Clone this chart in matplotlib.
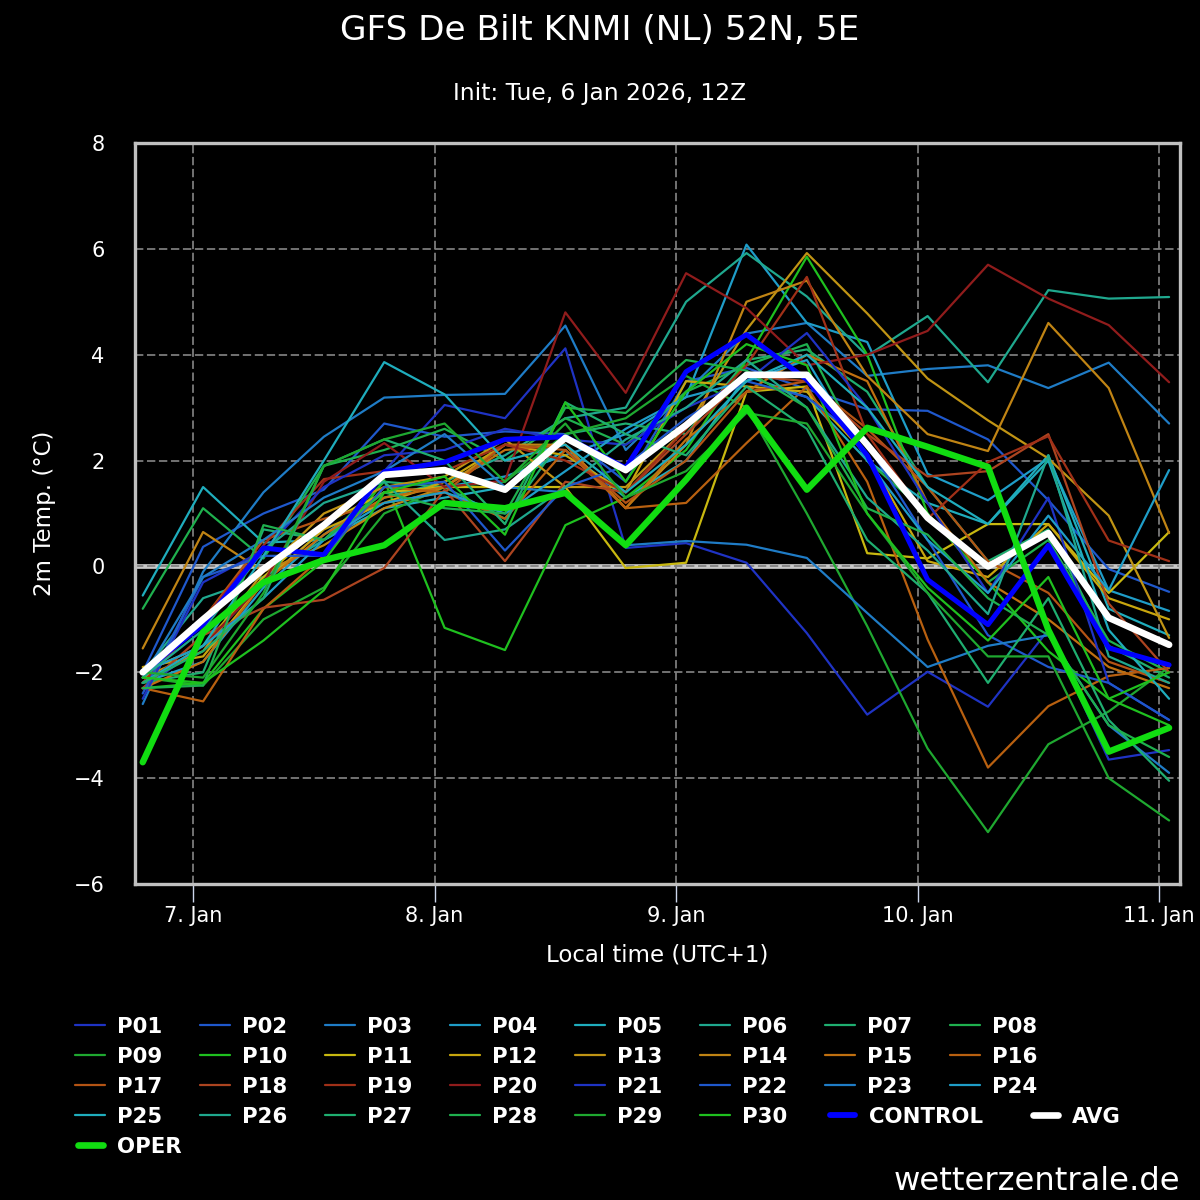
import matplotlib
matplotlib.use("Agg")
import matplotlib.pyplot as plt
from matplotlib.lines import Line2D
import pandas as pd

# ---------------- data ----------------
times = pd.date_range("2026-01-06 19:00", periods=18, freq="6h")
x_tick_dates = pd.to_datetime(["2026-01-07", "2026-01-08", "2026-01-09", "2026-01-10", "2026-01-11"])
x_tick_labels = ["7. Jan", "8. Jan", "9. Jan", "10. Jan", "11. Jan"]
y_ticks = [-6, -4, -2, 0, 2, 4, 6, 8]

p01 = [-2.3, -1.5, -0.3, 0.7, 1.8, 3.05, 2.8, 4.12, 0.35, 0.44, 0.07, -1.26, -2.8, -1.99, -2.65, -1.2, -3.65, -3.47]
p02 = [-2.0, 0.37, 1.0, 1.45, 2.7, 2.45, 2.55, 2.5, 1.6, 3.5, 3.75, 3.35, 2.97, 2.94, 2.4, 1.25, -0.05, -0.48]
p03 = [-2.6, -0.1, 1.4, 2.45, 3.19, 3.24, 3.26, 4.55, 2.2, 3.3, 4.4, 4.6, 3.6, 3.73, 3.8, 3.37, 3.85, 2.7]
p04 = [-2.2, -1.8, -0.4, 0.6, 1.4, 1.5, 1.7, 2.1, 2.5, 3.2, 6.08, 4.6, 4.24, 1.75, 1.25, 2.04, -0.45, -0.84]
p05 = [-0.55, 1.5, 0.45, 0.5, 1.1, 1.3, 1.5, 2.2, 1.3, 2.0, 3.6, 3.2, 2.0, 1.2, 0.8, 2.1, -0.8, -1.3]
p06 = [-2.0, -0.6, -0.2, 0.5, 1.3, 1.6, 2.1, 2.8, 3.0, 5.0, 5.92, 5.1, 3.98, 4.73, 3.48, 5.22, 5.06, 5.09]
p07 = [-2.2, -2.0, 0.7, 0.5, 1.6, 1.5, 0.9, 2.5, 2.7, 2.5, 3.9, 4.1, 3.3, 1.5, 0.1, 0.7, -1.5, -2.1]
p08 = [-0.8, 1.1, 0.15, 1.9, 2.2, 2.6, 2.0, 2.8, 2.3, 3.3, 3.8, 4.2, 2.0, 1.0, -0.3, 0.5, -1.4, -2.0]
p09 = [-2.1, -2.25, -1.0, -0.4, 1.0, 1.5, 1.6, 2.5, 2.8, 3.6, 3.0, 1.0, -1.13, -3.44, -5.02, -3.36, -2.74, -1.9]
p10 = [-2.3, -2.2, -0.8, 0.1, 1.63, -1.16, -1.58, 0.78, 1.3, 2.2, 3.9, 5.85, 4.0, 1.0, -0.3, -1.6, -2.5, -3.0]
p11 = [-2.0, -1.5, -0.2, 0.8, 1.4, 1.5, 1.5, 1.5, -0.03, 0.07, 3.3, 3.4, 0.25, 0.15, 0.8, 0.8, -0.5, 0.65]
p12 = [-1.9, -1.7, -0.3, 0.7, 1.2, 1.6, 2.3, 2.1, 1.4, 3.5, 3.4, 3.3, 2.1, 0.1, -0.2, 0.8, -0.6, -1.0]
p13 = [-2.1, -1.6, -0.1, 1.0, 1.5, 1.7, 2.4, 1.5, 1.5, 2.6, 4.47, 5.92, 4.78, 3.55, 2.76, 2.04, 0.96, -1.35]
p14 = [-1.55, 0.65, -0.1, 0.4, 1.1, 1.5, 2.3, 2.3, 1.1, 2.3, 5.0, 5.4, 3.6, 2.5, 2.18, 4.6, 3.37, 0.63]
p15 = [-2.3, -1.8, -0.3, 0.6, 1.3, 1.5, 2.2, 2.3, 1.1, 2.4, 3.3, 4.0, 3.5, 1.2, -0.3, -1.0, -1.9, -2.3]
p16 = [-2.3, -2.55, -0.8, 0.2, 1.5, 1.4, 0.9, 2.2, 1.1, 1.2, 2.33, 3.4, 1.6, -1.38, -3.8, -2.64, -2.07, -1.92]
p17 = [-2.2, -1.0, 0.5, 0.9, 1.2, 1.4, 2.3, 2.2, 1.2, 2.0, 3.3, 3.5, 2.6, 1.5, 0.1, -0.5, -1.8, -2.2]
p18 = [-2.3, -1.3, -0.78, -0.63, -0.03, 1.45, 0.1, 1.6, 1.4, 2.5, 3.6, 3.5, 2.5, 1.7, 1.8, 2.5, -0.7, -2.0]
p19 = [-2.2, -1.0, 0.4, 1.65, 1.8, 1.8, 2.3, 2.0, 1.4, 2.6, 3.8, 5.47, 2.5, 0.9, 1.97, 2.46, 0.49, 0.1]
p20 = [-2.2, -1.5, -0.3, 1.6, 2.33, 1.5, 1.62, 4.8, 3.28, 5.54, 4.88, 3.8, 4.0, 4.45, 5.7, 5.06, 4.56, 3.48]
p21 = [-2.5, -0.3, 0.3, 1.5, 2.1, 2.2, 2.6, 2.4, 2.3, 3.0, 3.5, 4.41, 3.0, 1.2, -0.5, 1.3, -2.2, -2.9]
p22 = [-2.4, -0.2, 0.2, 0.2, 1.5, 1.6, 0.3, 1.5, 1.9, 2.8, 3.5, 3.2, 2.3, 0.5, -1.3, -1.9, -2.2, -2.9]
p23 = [-2.1, -0.2, 0.5, 1.3, 1.8, 2.5, 1.5, 1.4, 0.4, 0.48, 0.41, 0.16, -0.88, -1.9, -1.5, -1.3, -3.0, -3.9]
p24 = [-2.0, -1.5, -0.6, 0.5, 1.2, 1.4, 1.0, 1.8, 2.6, 3.2, 3.5, 3.9, 2.0, 0.5, -0.5, 0.96, -0.45, 1.82]
p25 = [-2.2, -1.5, 0.2, 2.0, 3.86, 3.25, 2.0, 2.3, 1.4, 2.3, 3.5, 4.0, 3.0, 1.5, 0.8, 2.0, -1.2, -2.5]
p26 = [-2.1, -1.2, 0.3, 1.2, 1.6, 0.5, 0.7, 1.5, 2.4, 3.0, 3.9, 3.0, 1.3, 0.3, -0.9, 2.1, -1.7, -2.2]
p27 = [-2.2, -1.6, -0.6, 1.9, 2.4, 2.0, 0.8, 3.1, 2.5, 2.1, 3.4, 2.6, 0.5, -0.5, -2.2, -0.6, -2.9, -4.05]
p28 = [-2.3, -2.25, 0.78, 0.5, 1.4, 1.1, 1.0, 3.0, 2.9, 3.9, 3.7, 3.0, 1.1, 0.6, -0.6, -1.3, -3.0, -3.6]
p29 = [-2.0, -2.1, -0.5, 1.9, 2.4, 2.7, 1.6, 2.7, 1.3, 1.8, 2.9, 2.7, 1.0, -0.5, -1.7, -1.7, -4.0, -4.8]
p30 = [-2.1, -2.2, -1.4, -0.45, 1.4, 1.7, 0.6, 3.1, 1.6, 3.3, 4.2, 3.8, 1.0, -0.4, -1.4, -0.2, -2.5, -2.0]

control = [-2.0, -1.1, 0.35, 0.22, 1.79, 1.97, 2.4, 2.45, 1.86, 3.68, 4.38, 3.53, 2.1, -0.25, -1.1, 0.4, -1.54, -1.86]
avg = [-2.0, -1.0, -0.05, 0.78, 1.73, 1.82, 1.45, 2.43, 1.82, 2.67, 3.62, 3.62, 2.3, 0.92, 0.0, 0.63, -0.97, -1.48]
oper = [-3.7, -1.24, -0.3, 0.12, 0.4, 1.2, 1.1, 1.39, 0.4, 1.64, 3.0, 1.45, 2.62, 2.26, 1.88, -1.2, -3.5, -3.05]

members = [p01, p02, p03, p04, p05, p06, p07, p08, p09, p10,
           p11, p12, p13, p14, p15, p16, p17, p18, p19, p20,
           p21, p22, p23, p24, p25, p26, p27, p28, p29, p30]
member_names = ["P%02d" % (i + 1) for i in range(30)]

title = "GFS De Bilt KNMI (NL) 52N, 5E"
subtitle = "Init: Tue, 6 Jan 2026, 12Z"
x_label = "Local time (UTC+1)"
y_label = "2m Temp. (°C)"
credit = "wetterzentrale.de"

# ---------------- style ----------------
palette20 = ["#1f33c4", "#1f58cc", "#1f7cc6", "#1f9dc8", "#1fadbd",
             "#1fa88e", "#1fae70", "#1fb04e", "#1fa830", "#1fc01f",
             "#c8b810", "#c8a60e", "#c09414", "#c08414", "#c07010",
             "#b86010", "#b45414", "#ac4420", "#a03018", "#901c1c"]
member_colors = palette20 + palette20[:10]

W = H = 1200
BG = "black"
fig = plt.figure(figsize=(12, 12), dpi=100, facecolor=BG)
ax_l, ax_r, ax_t, ax_b = 135, 1180, 143, 884
ax = fig.add_axes([ax_l / W, 1 - ax_b / H, (ax_r - ax_l) / W, (ax_b - ax_t) / H])
ax.set_facecolor(BG)

for vals, col in zip(members, member_colors):
    ax.plot(times, vals, color=col, lw=1.6, zorder=2,
            solid_joinstyle="round", solid_capstyle="round")
ax.plot(times, control, color="#0000ff", lw=3.6, zorder=3,
        solid_joinstyle="round", solid_capstyle="round")
ax.plot(times, avg, color="white", lw=4.8, zorder=4,
        solid_joinstyle="round", solid_capstyle="round")
ax.plot(times, oper, color="#11dd11", lw=4.6, zorder=5,
        solid_joinstyle="round", solid_capstyle="round")

ax.set_xlim(pd.Timestamp("2026-01-06 18:14"), pd.Timestamp("2026-01-11 02:05"))
ax.set_ylim(-6, 8)
ax.set_xticks(x_tick_dates)
ax.set_xticklabels(x_tick_labels)
ax.set_yticks(y_ticks)
ax.set_yticklabels([("\u2212%d" % -v) if v < 0 else "%d" % v for v in y_ticks])

ax.grid(True, color="#808080", lw=1.25, linestyle=(0, (4.8, 2.1)))
ax.axhline(0, color="#c8c8c8", lw=3.4, zorder=1.4)

for s in ax.spines.values():
    s.set_color("#c0c0c0")
    s.set_linewidth(2.4)

ax.tick_params(axis="x", length=13, width=1.0, color="#ccd6eb",
               labelsize=15, labelcolor="white", pad=3)
ax.tick_params(axis="y", length=0, labelsize=15, labelcolor="white", pad=22)

# texts
fig.text(0.5, 1 - 40 / H, title, ha="center", va="baseline", fontsize=24.7, color="white")
fig.text(0.5, 1 - 100 / H, subtitle, ha="center", va="baseline", fontsize=16.8, color="white")
fig.text((ax_l + ax_r) / 2 / W, 1 - 955 / H, x_label, ha="center", va="center",
         fontsize=16.5, color="white")
fig.text(45 / W, 1 - 513 / H, y_label, ha="center", va="center", rotation=90,
         fontsize=16.5, color="white")
fig.text(1180 / W, 1 - 1190 / H, credit, ha="right", va="baseline", fontsize=23.2, color="white")

# legend (flow layout, row-major)
entries = [(n, c, 1.6) for n, c in zip(member_names, member_colors)]
entries += [("CONTROL", "#0000ff", 4.2), ("AVG", "white", 4.8), ("OPER", "#11dd11", 4.8)]
row_y = [1025, 1055, 1085, 1115, 1145]
positions = []
for k in range(24):
    positions.append((75 + 125 * (k % 8), row_y[k // 8]))
for k in range(6):
    positions.append((75 + 125 * k, row_y[3]))
positions.append((827, row_y[3]))
positions.append((1030, row_y[3]))
positions.append((75, row_y[4]))

for (name, col, lw), (x0, y0) in zip(entries, positions):
    if lw > 2:
        xs = [(x0 + 3) / W, (x0 + 28) / W]
    else:
        xs = [x0 / W, (x0 + 30) / W]
    fig.add_artist(Line2D(xs, [1 - y0 / H] * 2, transform=fig.transFigure,
                          color=col, lw=lw, solid_capstyle="round"))
    fig.text((x0 + 42) / W, 1 - (y0 + 8) / H, name, ha="left", va="baseline",
             fontsize=15.3, fontweight="bold", color="white")

fig.savefig("out.png", dpi=100, facecolor=BG)
